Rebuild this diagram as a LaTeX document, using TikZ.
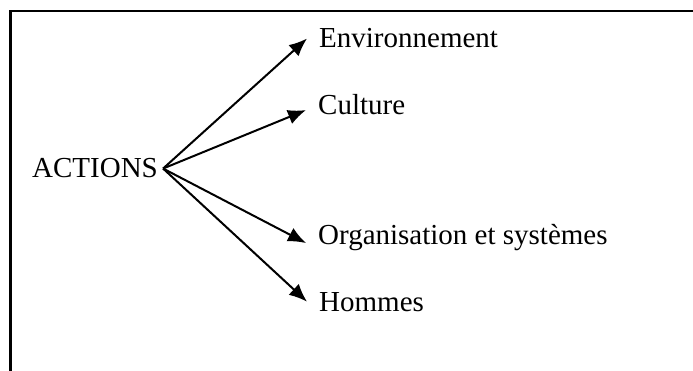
\documentclass[tikz,border=0pt]{standalone}
\usepackage{fontspec}
\setmainfont{Liberation Serif}
\usetikzlibrary{arrows.meta}

\begin{document}
\begin{tikzpicture}[x=1pt,y=-1pt,
        label/.style={font=\fontsize{29}{34}\selectfont, inner ysep=0pt},
        item/.style={label, anchor=base west, inner xsep=12pt},
        branch/.style={line width=2pt, -{Latex[length=18pt,width=15pt]}}]

        \useasboundingbox (0,0) rectangle (693,371);

        % draw the open frame
        \draw[line width=2.5pt] (693,11) -- (10.5,11) -- (10.5,371);

        % source and targets
        \node[label, anchor=base west, inner xsep=5pt] (act) at (27,178) {ACTIONS};

        \node[item] (env) at (307,48)  {Environnement};
        \node[item] (cul) at (306,115) {Culture};
        \node[item] (org) at (306,245) {Organisation et systèmes};
        \node[item] (hom) at (307,311) {Hommes};

        \foreach \t/\s in {env/0,cul/-5,org/-5,hom/0} {
                % arrow from the source to each target
                \draw[branch] (act.east) -- ([yshift=\s pt]\t.west);
        }

\end{tikzpicture}
\end{document}
